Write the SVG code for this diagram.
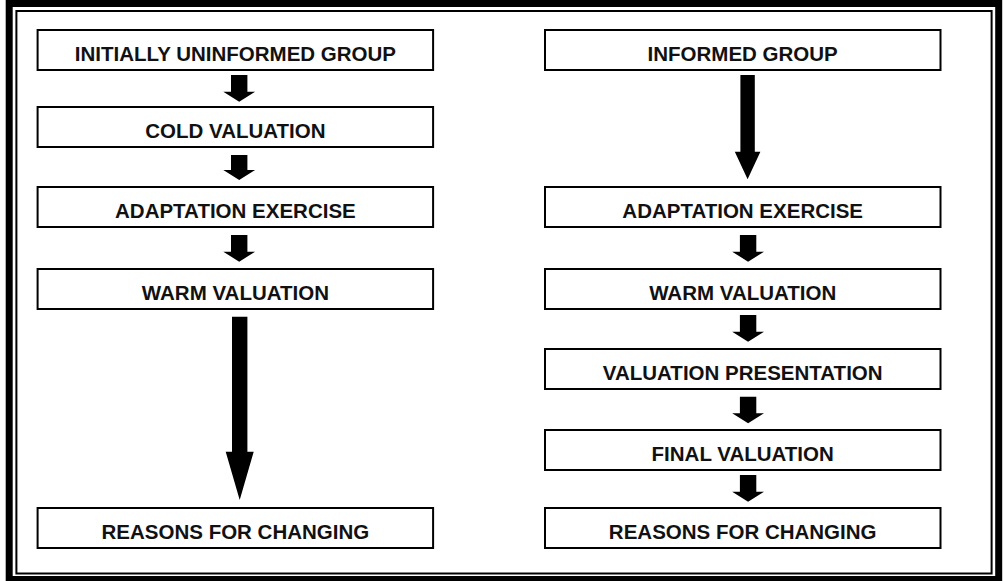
<svg xmlns="http://www.w3.org/2000/svg" width="1008" height="581" viewBox="0 0 1008 581">
<style>
.box{fill:#fff;stroke:#000;stroke-width:2}
.lbl{font-family:"Liberation Sans",Arial,sans-serif;font-weight:bold;font-size:20.5px;fill:#111;text-anchor:middle}
.arr{fill:#000;stroke:none}
</style>
<rect x="0" y="0" width="1008" height="581" fill="#fff"/>
<g id="frame">
<rect x="9.2" y="3.5" width="989.5" height="576" fill="none" stroke="#000" stroke-width="7"/>
<rect x="16.4" y="11" width="975.2" height="562.5" fill="none" stroke="#000" stroke-width="2"/>
</g>
<g id="connectors">
<polygon class="arr" points="231,75 247.4,75 247.4,91.7 255.1,91.7 239.2,101.7 223.3,91.7 231,91.7"/>
<polygon class="arr" points="231,155 247.4,155 247.4,170 255.1,170 239.2,180 223.3,170 231,170"/>
<polygon class="arr" points="231,235 247.4,235 247.4,251.7 255.1,251.7 239.2,261.7 223.3,251.7 231,251.7"/>
<polygon class="arr" points="232,316.7 247.4,316.7 247.4,451.7 253.7,451.7 239.7,500 225.7,451.7 232,451.7"/>
<polygon class="arr" points="740.4,75 754.8,75 754.8,151.7 760.4,151.7 747.6,179.3 734.8,151.7 740.4,151.7"/>
<polygon class="arr" points="739.9,235 756.3,235 756.3,251.7 764,251.7 748.1,261.7 732.2,251.7 739.9,251.7"/>
<polygon class="arr" points="739.9,315 756.3,315 756.3,331.7 764,331.7 748.1,341.7 732.2,331.7 739.9,331.7"/>
<polygon class="arr" points="739.9,396.7 756.3,396.7 756.3,413.3 764,413.3 748.1,423.3 732.2,413.3 739.9,413.3"/>
<polygon class="arr" points="739.9,475 756.3,475 756.3,491.7 764,491.7 748.1,501.7 732.2,491.7 739.9,491.7"/>
</g>
<g id="L1"><rect class="box" x="37.6" y="30" width="395.5" height="40"/><text class="lbl" x="235.4" y="60.5">INITIALLY UNINFORMED GROUP</text></g>
<g id="L2"><rect class="box" x="37.6" y="107" width="395.5" height="40"/><text class="lbl" x="235.4" y="137.5">COLD VALUATION</text></g>
<g id="L3"><rect class="box" x="37.6" y="187" width="395.5" height="40"/><text class="lbl" x="235.4" y="217.5">ADAPTATION EXERCISE</text></g>
<g id="L4"><rect class="box" x="37.6" y="269" width="395.5" height="40"/><text class="lbl" x="235.4" y="299.5">WARM VALUATION</text></g>
<g id="L5"><rect class="box" x="37.6" y="508" width="395.5" height="40"/><text class="lbl" x="235.4" y="538.5">REASONS FOR CHANGING</text></g>
<g id="R1"><rect class="box" x="545" y="30" width="395.5" height="40"/><text class="lbl" x="742.7" y="60.5">INFORMED GROUP</text></g>
<g id="R2"><rect class="box" x="545" y="187" width="395.5" height="40"/><text class="lbl" x="742.7" y="217.5">ADAPTATION EXERCISE</text></g>
<g id="R3"><rect class="box" x="545" y="269" width="395.5" height="40"/><text class="lbl" x="742.7" y="299.5">WARM VALUATION</text></g>
<g id="R4"><rect class="box" x="545" y="349" width="395.5" height="40"/><text class="lbl" x="742.7" y="379.5">VALUATION PRESENTATION</text></g>
<g id="R5"><rect class="box" x="545" y="430" width="395.5" height="40"/><text class="lbl" x="742.7" y="460.5">FINAL VALUATION</text></g>
<g id="R6"><rect class="box" x="545" y="508" width="395.5" height="40"/><text class="lbl" x="742.7" y="538.5">REASONS FOR CHANGING</text></g>
</svg>
